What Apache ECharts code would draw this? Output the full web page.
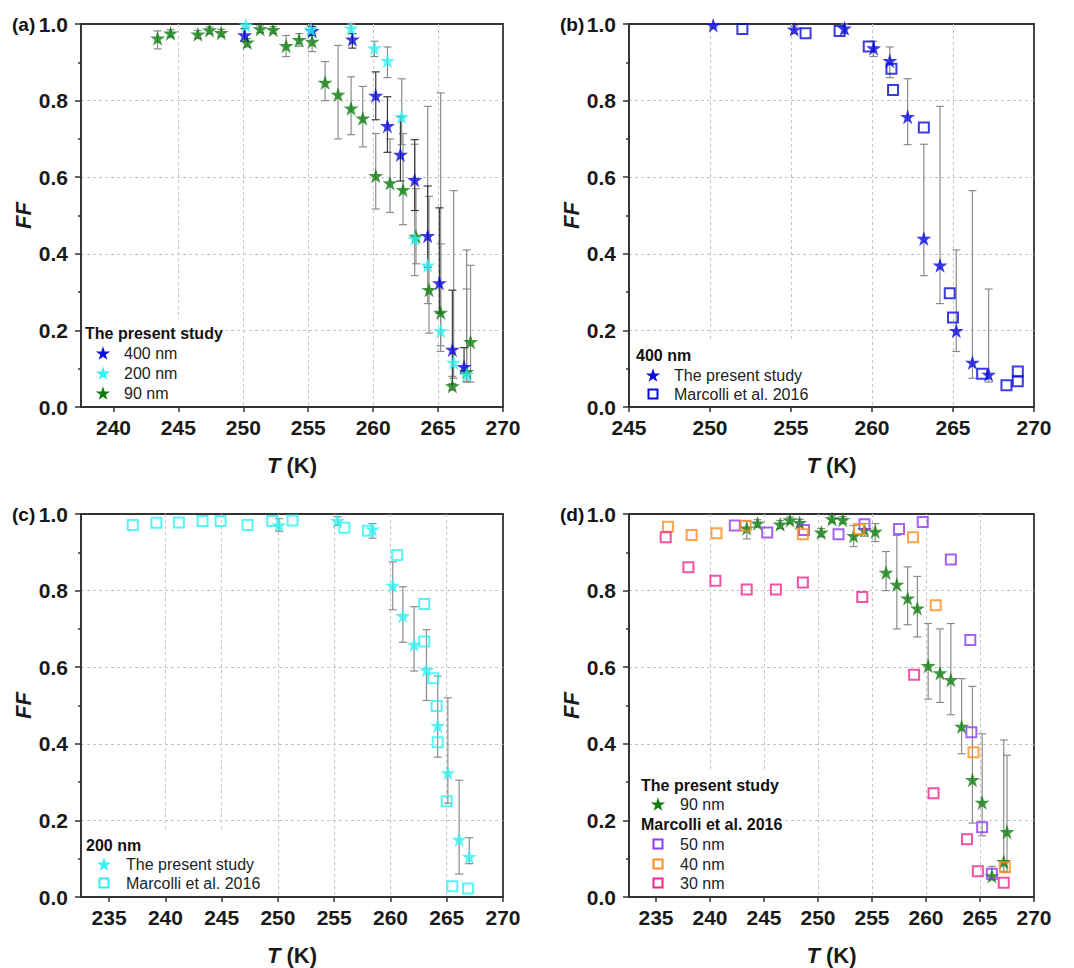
<!DOCTYPE html>
<html>
<head>
<meta charset="utf-8">
<script src="https://cdn.jsdelivr.net/npm/echarts@6/dist/echarts.min.js"></script>
<style>
  html, body { margin: 0; padding: 0; background: #fff; }
  #chart { width: 1074px; height: 968px; }
</style>
</head>
<body>
<div id="chart"></div>
<script>
// present study, 90 nm (panels a, d)
var t90  = [243.4, 244.4, 246.5, 247.4, 248.3, 250.3, 251.3, 252.3, 253.3, 254.3, 255.3, 256.3, 257.3, 258.3, 259.2, 260.2, 261.3, 262.3, 263.3, 264.3, 265.2, 266.1, 267.2, 267.5];
var ff90 = [0.963, 0.976, 0.973, 0.984, 0.977, 0.952, 0.987, 0.985, 0.943, 0.959, 0.954, 0.847, 0.816, 0.780, 0.754, 0.604, 0.585, 0.567, 0.445, 0.306, 0.247, 0.055, 0.092, 0.170];
var lo90 = [0.935, 0.966, 0.962, 0.975, 0.968, 0.940, 0.978, 0.976, 0.915, 0.942, 0.928, 0.800, 0.700, 0.711, 0.679, 0.517, 0.508, 0.476, 0.374, 0.193, 0.160, 0.045, 0.067, 0.065];
var hi90 = [0.982, 0.985, 0.983, 0.992, 0.986, 0.962, 0.995, 0.993, 0.970, 0.975, 0.975, 0.902, 0.944, 0.862, 0.837, 0.714, 0.700, 0.714, 0.570, 0.550, 0.426, 0.080, 0.410, 0.370];

// present study set shown in panel (c) (blue stars in panel a)
var tSetC  = [250.1, 255.3, 258.4, 260.2, 261.1, 262.1, 263.2, 264.2, 265.1, 266.1, 267.0];
var ffSetC = [0.971, 0.982, 0.960, 0.813, 0.734, 0.659, 0.593, 0.447, 0.324, 0.150, 0.105];
var loSetC = [0.955, 0.970, 0.937, 0.750, 0.665, 0.590, 0.513, 0.365, 0.245, 0.060, 0.087];
var hiSetC = [0.988, 0.993, 0.975, 0.875, 0.810, 0.758, 0.698, 0.577, 0.520, 0.305, 0.155];

// present study set shown in panel (b) (cyan stars in panel a)
var tSetB  = [250.2, 255.2, 258.3, 260.1, 261.1, 262.2, 263.2, 264.2, 265.2, 266.2, 267.2];
var ffSetB = [0.997, 0.986, 0.989, 0.937, 0.904, 0.758, 0.440, 0.370, 0.199, 0.116, 0.085];
var loSetB = [0.990, 0.975, 0.975, 0.915, 0.860, 0.685, 0.343, 0.270, 0.145, 0.075, 0.065];
var hiSetB = [1.000, 0.995, 1.000, 0.955, 0.940, 0.857, 0.686, 0.785, 0.410, 0.565, 0.308];
var hiSetBinA = [1.000, 0.995, 1.000, 0.955, 0.940, 0.857, 0.686, 0.785, 0.820, 0.565, 0.308];

// Marcolli et al. 2016
var tM400  = [252.0, 255.9, 258.0, 259.8, 261.2, 261.3, 263.2, 264.8, 265.0, 266.8, 268.3, 269.0, 269.0];
var ffM400 = [0.987, 0.976, 0.982, 0.941, 0.883, 0.828, 0.730, 0.297, 0.234, 0.087, 0.057, 0.067, 0.093];
var tM200  = [237.1, 239.2, 241.2, 243.3, 244.9, 247.3, 249.5, 251.3, 255.9, 258.0, 260.6, 263.0, 263.0, 263.8, 264.1, 264.2, 265.0, 265.5, 266.9];
var ffM200 = [0.971, 0.977, 0.978, 0.982, 0.982, 0.971, 0.982, 0.983, 0.964, 0.956, 0.893, 0.765, 0.667, 0.571, 0.499, 0.404, 0.250, 0.028, 0.022];
var tM50   = [242.3, 245.3, 248.7, 251.9, 254.3, 257.5, 259.7, 262.3, 264.1, 264.2, 265.2, 266.1];
var ffM50  = [0.970, 0.952, 0.958, 0.947, 0.973, 0.961, 0.979, 0.881, 0.671, 0.430, 0.182, 0.061];
var tM40   = [236.1, 238.3, 240.6, 243.3, 248.6, 253.8, 258.8, 260.9, 264.4, 267.3];
var ffM40  = [0.967, 0.945, 0.950, 0.969, 0.947, 0.961, 0.939, 0.762, 0.378, 0.078];
var tM30   = [235.9, 238.0, 240.5, 243.4, 246.1, 248.6, 254.1, 258.9, 260.7, 263.8, 264.8, 267.2];
var ffM30  = [0.939, 0.861, 0.826, 0.803, 0.803, 0.821, 0.783, 0.580, 0.271, 0.151, 0.067, 0.037];

var xTicksA = [240, 245, 250, 255, 260, 265, 270];
var xTicksB = [245, 250, 255, 260, 265, 270];
var xTicksCD = [235, 240, 245, 250, 255, 260, 265, 270];

var BLUE = '#0a0ade', CYAN = '#30f2f2', GREEN = '#0f7d0f';
var PURPLE = '#8e3cf0', ORANGE = '#ff8c1e', PINK = '#f0288c';
var FONT = '"Liberation Sans", Arial, sans-serif';
var STAR = 'path://M50 0L61.23 34.55L97.55 34.55L68.16 55.9L79.39 90.45L50 69.1L20.61 90.45L31.84 55.9L2.45 34.55L38.77 34.55Z';

function pairs(t, v) { return t.map(function (x, i) { return [x, v[i]]; }); }
function triples(t, lo, hi) { return t.map(function (x, i) { return [x, lo[i], hi[i]]; }); }

var boxes = [
  { left: 81, top: 24, width: 422, height: 383 },
  { left: 629, top: 24, width: 405, height: 383 },
  { left: 81, top: 514, width: 422, height: 383 },
  { left: 629, top: 514, width: 405, height: 383 }
];

var gridLine = { show: true, showMinLine: false, showMaxLine: false,
  lineStyle: { color: '#c4c4c4', type: [3, 3], width: 1 } };

function xAxis(i, min, max, ticks, interval) {
  var ax = {
    gridIndex: i, type: 'value', min: min, max: max, splitNumber: 7,
    axisLine: { onZero: false, lineStyle: { color: '#333', width: 1.8 } },
    axisTick: { length: 5, customValues: ticks, lineStyle: { color: '#333', width: 1.5 } },
    axisLabel: { customValues: ticks, margin: 10, fontSize: 21, fontWeight: 'bold', color: '#1a1a1a', fontFamily: FONT },
    splitLine: gridLine,
    name: '{i|T} (K)', nameLocation: 'middle', nameGap: 47,
    nameTextStyle: { fontSize: 22, fontWeight: 'bold', color: '#1a1a1a', fontFamily: FONT,
      rich: { i: { fontSize: 22, fontWeight: 'bold', fontStyle: 'italic', color: '#1a1a1a', fontFamily: FONT } } }
  };
  if (interval) ax.interval = interval;
  return ax;
}

function yAxis(i) {
  return {
    gridIndex: i, type: 'value', min: 0, max: 1, interval: 0.2,
    axisLine: { lineStyle: { color: '#333', width: 1.8 } },
    axisTick: { length: 6, lineStyle: { color: '#333', width: 1.5 } },
    minorTick: { show: true, splitNumber: 2, length: 3, lineStyle: { color: '#333', width: 1.5 } },
    axisLabel: { margin: 13, fontSize: 21, fontWeight: 'bold', color: '#1a1a1a', fontFamily: FONT,
      formatter: function (v) { return v.toFixed(1); } },
    splitLine: gridLine,
    name: 'FF', nameLocation: 'middle', nameGap: 46,
    nameTextStyle: { fontSize: 22, fontWeight: 'bold', fontStyle: 'italic', color: '#1a1a1a', fontFamily: FONT }
  };
}

function renderErr(params, api) {
  var x = api.value(0);
  var lo = api.coord([x, api.value(1)]);
  var hi = api.coord([x, api.value(2)]);
  var w = 4;
  var style = { stroke: api.visual('color'), lineWidth: 1.2 };
  return {
    type: 'group',
    children: [
      { type: 'line', shape: { x1: lo[0], y1: lo[1], x2: hi[0], y2: hi[1] }, style: style },
      { type: 'line', shape: { x1: lo[0] - w, y1: lo[1], x2: lo[0] + w, y2: lo[1] }, style: style },
      { type: 'line', shape: { x1: hi[0] - w, y1: hi[1], x2: hi[0] + w, y2: hi[1] }, style: style }
    ]
  };
}

function errSeries(i, data, color) {
  return { type: 'custom', xAxisIndex: i, yAxisIndex: i, renderItem: renderErr,
    encode: { x: 0, y: [1, 2] }, itemStyle: { color: color }, data: data, z: 2, silent: true };
}
function stars(i, data, color) {
  return { type: 'scatter', xAxisIndex: i, yAxisIndex: i, symbol: STAR, symbolSize: 15,
    itemStyle: { color: color }, data: data, z: 3, silent: true };
}
function squares(i, data, color) {
  return { type: 'scatter', xAxisIndex: i, yAxisIndex: i, symbol: 'rect', symbolSize: 10,
    itemStyle: { color: 'rgba(0,0,0,0)', borderColor: color, borderWidth: 2 }, data: data, z: 4, silent: true };
}

// legend pieces (graphic)
var g = [];
function starPoints(cx, cy, r) {
  var pts = [];
  for (var k = 0; k < 10; k++) {
    var a = -Math.PI / 2 + k * Math.PI / 5;
    var rr = k % 2 ? r * 0.382 : r;
    pts.push([cx + rr * Math.cos(a), cy + rr * Math.sin(a)]);
  }
  return pts;
}
function bg(x, y, w, h) { g.push({ type: 'rect', z: 1, shape: { x: x, y: y, width: w, height: h }, style: { fill: '#fff' } }); }
function head(x, y, s) { g.push({ type: 'text', z: 10, x: x, y: y, style: { text: s, font: 'bold 16px ' + FONT, fill: '#111', verticalAlign: 'middle' } }); }
function label(x, y, s) { g.push({ type: 'text', z: 10, x: x, y: y, style: { text: s, font: '16px ' + FONT, fill: '#222', verticalAlign: 'middle' } }); }
function starIcon(cx, cy, c) { g.push({ type: 'polygon', z: 10, shape: { points: starPoints(cx, cy + 0.8, 7.5) }, style: { fill: c } }); }
function sqIcon(cx, cy, c) { g.push({ type: 'rect', z: 10, shape: { x: cx - 4.5, y: cy - 4.5, width: 9, height: 9 }, style: { fill: 'none', stroke: c, lineWidth: 2 } }); }
function panel(x, y, s) { g.push({ type: 'text', z: 10, x: x, y: y, style: { text: s, font: 'bold 19px ' + FONT, fill: '#111', verticalAlign: 'middle' } }); }

panel(12, 24, '(a)'); panel(560, 24, '(b)'); panel(12, 514, '(c)'); panel(560, 514, '(d)');

bg(83, 319, 140, 86);
head(85, 333, 'The present study');
starIcon(103, 353, BLUE); label(124, 353, '400 nm');
starIcon(103, 373, CYAN); label(124, 373, '200 nm');
starIcon(103, 393, GREEN); label(124, 393, '90 nm');

bg(631, 341, 175, 64);
head(636, 355, '400 nm');
starIcon(653, 375, BLUE); label(674, 375, 'The present study');
sqIcon(653, 394, BLUE); label(674, 394, 'Marcolli et al. 2016');

bg(83, 831, 180, 64);
head(86, 845, '200 nm');
starIcon(104, 864, CYAN); label(126, 864, 'The present study');
sqIcon(104, 883, CYAN); label(126, 883, 'Marcolli et al. 2016');

bg(631, 771, 152, 124);
head(641, 785, 'The present study');
starIcon(658, 804, GREEN); label(680, 804, '90 nm');
head(641, 824, 'Marcolli et al. 2016');
sqIcon(658, 844, PURPLE); label(680, 844, '50 nm');
sqIcon(658, 864, ORANGE); label(680, 864, '40 nm');
sqIcon(658, 883, PINK); label(680, 883, '30 nm');

var chart = echarts.init(document.getElementById('chart'), null, { renderer: 'svg' });
chart.setOption({
  animation: false,
  backgroundColor: '#fff',
  grid: boxes.map(function (b) {
    return { left: b.left, top: b.top, width: b.width, height: b.height, show: true,
      borderColor: '#333', borderWidth: 1.8, backgroundColor: 'transparent' };
  }),
  xAxis: [
    xAxis(0, 237.5, 270, xTicksA),
    xAxis(1, 245, 270, xTicksB, 5),
    xAxis(2, 232.5, 270, xTicksCD),
    xAxis(3, 232.5, 270, xTicksCD)
  ],
  yAxis: [yAxis(0), yAxis(1), yAxis(2), yAxis(3)],
  graphic: { elements: g },
  series: [
    // (a)
    errSeries(0, triples(t90, lo90, hi90), '#8c8c8c'),
    errSeries(0, triples(tSetB, loSetB, hiSetBinA), '#8c8c8c'),
    errSeries(0, triples(tSetC, loSetC, hiSetC), '#3a3a3a'),
    stars(0, pairs(t90, ff90), GREEN),
    stars(0, pairs(tSetC, ffSetC), BLUE),
    stars(0, pairs(tSetB, ffSetB), CYAN),
    // (b)
    errSeries(1, triples(tSetB, loSetB, hiSetB), '#8c8c8c'),
    stars(1, pairs(tSetB, ffSetB), BLUE),
    squares(1, pairs(tM400, ffM400), BLUE),
    // (c)
    errSeries(2, triples(tSetC, loSetC, hiSetC), '#8c8c8c'),
    stars(2, pairs(tSetC, ffSetC), CYAN),
    squares(2, pairs(tM200, ffM200), CYAN),
    // (d)
    errSeries(3, triples(t90, lo90, hi90), '#8c8c8c'),
    stars(3, pairs(t90, ff90), GREEN),
    squares(3, pairs(tM50, ffM50), PURPLE),
    squares(3, pairs(tM40, ffM40), ORANGE),
    squares(3, pairs(tM30, ffM30), PINK)
  ]
});
</script>
</body>
</html>
